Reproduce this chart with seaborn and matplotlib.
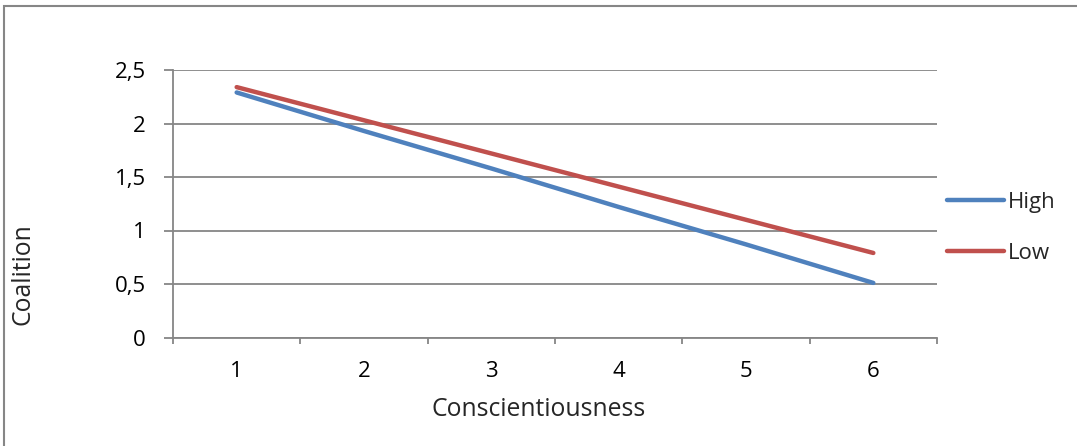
import matplotlib
matplotlib.use("Agg")
import matplotlib.pyplot as plt
import seaborn as sns
import pandas as pd
from matplotlib.ticker import MultipleLocator, FuncFormatter
from matplotlib.lines import Line2D
from matplotlib.patches import Rectangle

categories = [1, 2, 3, 4, 5, 6]
high = [2.29, 1.93, 1.58, 1.22, 0.87, 0.51]
low = [2.34, 2.03, 1.72, 1.41, 1.10, 0.79]
series_names = ["High", "Low"]
y_ticks = [0, 0.5, 1, 1.5, 2, 2.5]

df = pd.DataFrame({
    "Conscientiousness": categories * 2,
    "Coalition": high + low,
    "Series": ["High"] * len(categories) + ["Low"] * len(categories),
})

sns.set_theme(style="white")
plt.rcParams["font.family"] = ["Open Sans", "DejaVu Sans"]

W, H = 1077, 446
fig = plt.figure(figsize=(W / 100, H / 100), dpi=100)
ax = fig.add_axes([173 / W, 1 - 337.5 / H, (937 - 173) / W, (337.5 - 70) / H])

palette = {"High": "#4F81BD", "Low": "#C0504D"}
sns.lineplot(data=df, x="Conscientiousness", y="Coalition", hue="Series",
             hue_order=series_names, palette=palette, linewidth=3.2,
             ax=ax, legend=False, solid_capstyle="round")

grid_c = "#868686"
tick_fs = 16
label_fs = 17.8
ax.set_xlim(0.5, 6.5)
ax.set_ylim(0, 2.5)
ax.set_yticks(y_ticks)
ax.yaxis.set_major_formatter(FuncFormatter(lambda v, p: (f"{v:g}").replace(".", ",")))
ax.set_xticks(categories)
ax.set_xticklabels([str(c) for c in categories])
ax.xaxis.set_minor_locator(MultipleLocator(1, offset=0.5))
ax.tick_params(axis="x", which="major", length=0, pad=17, labelsize=tick_fs, colors="black")
ax.tick_params(axis="x", which="minor", length=4, width=1.3, color=grid_c, direction="out", bottom=True)
ax.tick_params(axis="y", which="major", length=6.5, width=1.3, color=grid_c, direction="out",
               pad=13, labelsize=tick_fs, left=True)
for lab in ax.get_yticklabels():
    lab.set_color("black")
ax.yaxis.grid(True, color=grid_c, linewidth=1.3)
ax.xaxis.grid(False)
for s in ["top", "right"]:
    ax.spines[s].set_visible(False)
for s in ["left", "bottom"]:
    ax.spines[s].set_color(grid_c)
    ax.spines[s].set_linewidth(1.3)
ax.set_axisbelow(True)

ax.set_xlabel("")
ax.set_ylabel("")
fig.text(539 / W, 1 - 409 / H, "Conscientiousness", ha="center", va="center", fontsize=label_fs)
fig.text(23 / W, 1 - 274 / H, "Coalition", ha="center", va="center", rotation=90, fontsize=label_fs)

handles = [Line2D([0], [0], color=palette[n], lw=3.2, solid_capstyle="round") for n in series_names]
fig.legend(handles, series_names, loc="center left", bbox_to_anchor=(947 / W, 1 - 228 / H),
           frameon=False, fontsize=tick_fs, handlelength=2.55, handletextpad=0.2,
           labelspacing=1.35, borderpad=0, borderaxespad=0)

# outer chart border
fig.patches.append(Rectangle((4 / W, -0.1), 1.2, 1 - 6 / H + 0.1, transform=fig.transFigure,
                             fill=False, edgecolor=grid_c, linewidth=1.5))

fig.savefig("out.png", dpi=100)
